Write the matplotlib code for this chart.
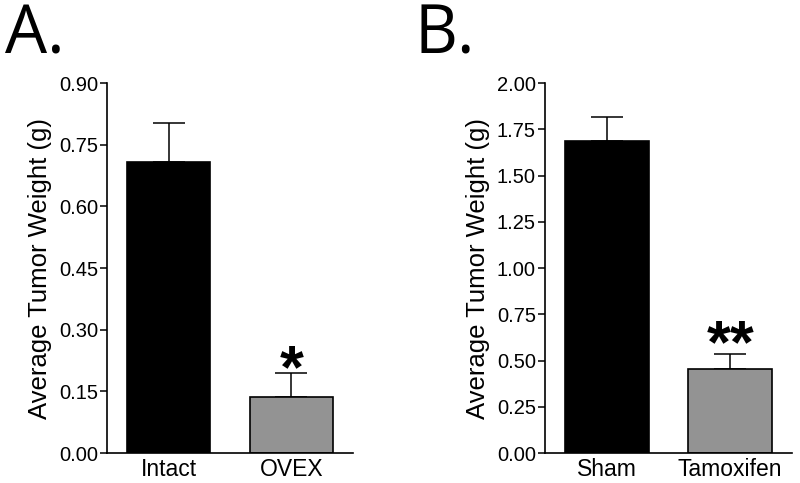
import matplotlib
matplotlib.use("Agg")
import matplotlib.pyplot as plt

cats_a = ["Intact", "OVEX"]
vals_a = [0.707, 0.137]
errs_a = [0.097, 0.057]
ticks_a = [0.00, 0.15, 0.30, 0.45, 0.60, 0.75, 0.90]

cats_b = ["Sham", "Tamoxifen"]
vals_b = [1.685, 0.452]
errs_b = [0.130, 0.084]
ticks_b = [0.00, 0.25, 0.50, 0.75, 1.00, 1.25, 1.50, 1.75, 2.00]

colors = ["#000000", "#939393"]
sig_a = ["", "*"]
sig_b = ["", "**"]

plt.rcParams['font.family'] = ['Liberation Sans', 'DejaVu Sans']

fig = plt.figure(figsize=(8, 4.83), dpi=100)
axA = fig.add_axes([0.134, 0.062, 0.307, 0.766])
axB = fig.add_axes([0.681, 0.062, 0.309, 0.766])

def panel(ax, cats, vals, errs, ticks, sig, star_off, letter, lx):
    x = list(range(len(cats)))
    ax.bar(x, vals, width=0.68, color=colors, edgecolor="black", linewidth=1.2, zorder=2)
    ax.errorbar(x, vals, yerr=[[0]*len(errs), errs], fmt="none", ecolor="black",
                elinewidth=1.1, capsize=11.5, capthick=1.1, zorder=1)
    ax.set_xlim(-0.5, 1.5)
    ax.set_ylim(0, ticks[-1])
    ax.set_yticks(ticks)
    ax.set_yticklabels([f"{t:.2f}" for t in ticks])
    ax.set_xticks(x)
    ax.set_xticklabels(cats)
    ax.tick_params(axis="x", length=0, labelsize=16.5, pad=3.5)
    ax.tick_params(axis="y", length=5, width=1.1, labelsize=14.5, pad=1.5)
    for s in ["top", "right"]:
        ax.spines[s].set_visible(False)
    for s in ["left", "bottom"]:
        ax.spines[s].set_linewidth(1.2)
    ax.set_ylabel("Average Tumor Weight (g)", fontsize=18.5, labelpad=5)
    for xi, v, e, s in zip(x, vals, errs, sig):
        if s:
            ax.annotate(s, (xi, v + e), xytext=(0, star_off), textcoords="offset points",
                        ha="center", va="center", fontsize=44, fontweight="bold")
    fig.text(lx, 0.890, letter, fontsize=48, family=["Open Sans", "DejaVu Sans"],
             ha="left", va="baseline")

panel(axA, cats_a, vals_a, errs_a, ticks_a, sig_a, 1.5, "A.", 0.006)
panel(axB, cats_b, vals_b, errs_b, ticks_b, sig_b, 5, "B.", 0.518)

fig.savefig("out.png", dpi=100)
